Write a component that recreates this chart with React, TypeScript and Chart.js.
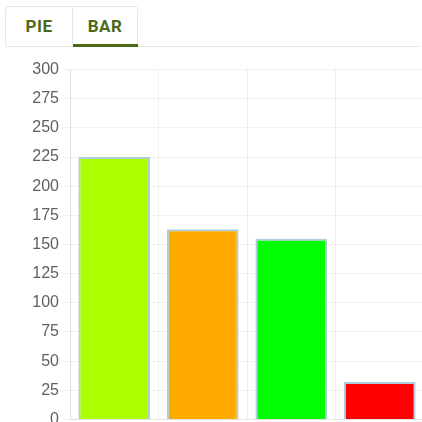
import React, { useEffect, useRef } from "react";
import { Chart, registerables } from "chart.js";

Chart.register(...registerables);

const categories = ["A", "B", "C", "D"];
const values = [225, 163, 155, 32];
const barColors = ["#aaff00", "#ffaa00", "#00ff00", "#ff0000"];
const yTicks = [0, 25, 50, 75, 100, 125, 150, 175, 200, 225, 250, 275, 300];
const tabs = ["PIE", "BAR"];

const OLIVE = "#4b6a18";

export default function App() {
  const ref = useRef<HTMLCanvasElement | null>(null);

  useEffect(() => {
    if (!ref.current) return;
    const chart = new Chart(ref.current, {
      type: "bar",
      data: {
        labels: categories,
        datasets: [
          {
            data: values,
            backgroundColor: barColors,
            borderColor: "rgba(165,200,215,0.9)",
            borderWidth: 2,
            barPercentage: 0.9,
            categoryPercentage: 0.9,
          },
        ],
      },
      options: {
        animation: false,
        responsive: false,
        maintainAspectRatio: false,
        layout: { padding: { left: 0, right: 0, top: 0, bottom: 0 } },
        plugins: { legend: { display: false }, tooltip: { enabled: false } },
        scales: {
          x: {
            ticks: { display: false },
            grid: { color: "rgba(0,0,0,0.06)", drawTicks: false },
            border: { color: "rgba(0,0,0,0.06)" },
          },
          y: {
            min: 0,
            max: 300,
            afterBuildTicks: (scale: any) => {
              scale.ticks = yTicks.map((v) => ({ value: v }));
            },
            afterFit: (scale: any) => {
              scale.width = 70;
            },
            ticks: {
              color: "#5f5f5f",
              font: { size: 16, family: "'Liberation Sans', Arial, sans-serif" },
              padding: 4,
            },
            grid: { color: "rgba(0,0,0,0.06)", tickLength: 7 },
            border: { color: "rgba(0,0,0,0.08)" },
          },
        },
      },
    });
    return () => chart.destroy();
  }, []);

  return (
    <div
      style={{
        position: "fixed",
        left: 0,
        top: 0,
        width: 422,
        height: 422,
        overflow: "hidden",
        background: "#fff",
        fontFamily: "Roboto, sans-serif",
      }}
    >
      <div
        style={{
          position: "absolute",
          left: 5,
          top: 6,
          width: 415,
          height: 40,
          borderBottom: "1px solid #e6e6e6",
        }}
      />
      <div
        style={{
          position: "absolute",
          left: 5,
          top: 6,
          width: 133,
          height: 40,
          border: "1px solid #e8e8e8",
          borderBottom: "none",
          borderRadius: "4px 4px 0 0",
          boxSizing: "border-box",
          display: "flex",
        }}
      >
        {tabs.map((t, i) => (
          <div
            key={t}
            style={{
              width: i === 0 ? 67 : 66,
              height: 40,
              boxSizing: "border-box",
              borderLeft: i === 1 ? "1px solid #e8e8e8" : "none",
              display: "flex",
              alignItems: "center",
              justifyContent: "center",
              fontWeight: 700,
              fontSize: 17,
              letterSpacing: 0.5,
              color: OLIVE,
              position: "relative",
              paddingBottom: 3,
            }}
          >
            {t}
            {i === 1 && (
              <div
                style={{
                  position: "absolute",
                  left: 0,
                  right: -1,
                  bottom: 0,
                  height: 3,
                  background: OLIVE,
                }}
              />
            )}
          </div>
        ))}
      </div>
      <div style={{ position: "absolute", left: 0, top: 56, width: 424, height: 377 }}>
        <canvas ref={ref} width={424} height={377} style={{ display: "block" }} />
      </div>
    </div>
  );
}
